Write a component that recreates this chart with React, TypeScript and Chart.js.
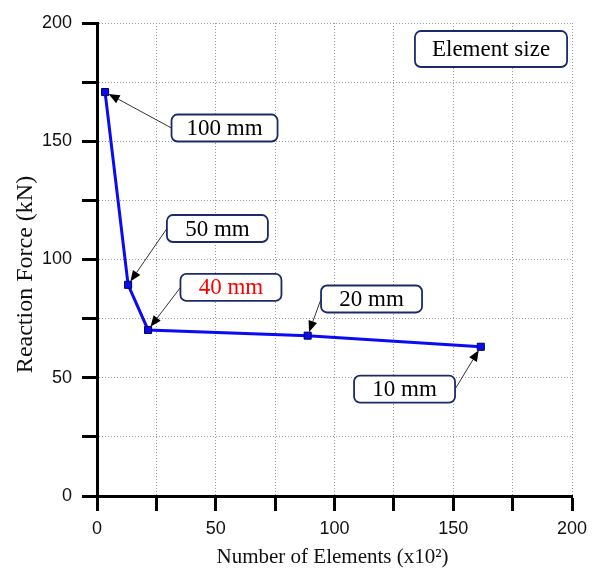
import React, { useEffect, useRef } from 'react';
import { Chart, registerables } from 'chart.js';

Chart.register(...registerables);

// ---- data ----
const elementCounts = [3.4, 13.1, 21.5, 88.7, 161.6]; // number of elements (x10^2)
const reactionForce = [170.8, 89.3, 70.2, 67.8, 63.1]; // kN
const sizeLabels = ['100 mm', '50 mm', '40 mm', '20 mm', '10 mm'];
const labelColors = ['#000000', '#000000', '#ff0000', '#000000', '#000000'];
// label box centres, in data units
const labelBoxX = [53.7, 50.7, 56.4, 115.6, 129.5];
const labelBoxY = [155.6, 113.1, 88.2, 83.3, 45.2];
const labelArrowSide = ['left', 'left', 'left', 'left', 'right'];
const legendTitle = 'Element size';
const legendBoxX = [165.9];
const legendBoxY = [189.0];
const axisTicks = [0, 25, 50, 75, 100, 125, 150, 175, 200];
const labelledTicks = [0, 50, 100, 150, 200];
const xTitle = 'Number of Elements (x10\u00B2)';
const yTitle = 'Reaction Force (kN)';

const SERIF = '"Liberation Serif", "Times New Roman", serif';
const SANS = '"Liberation Sans", Arial, sans-serif';

function roundRect(ctx: CanvasRenderingContext2D, x: number, y: number, w: number, h: number, r: number) {
  ctx.beginPath();
  ctx.moveTo(x + r, y);
  ctx.arcTo(x + w, y, x + w, y + h, r);
  ctx.arcTo(x + w, y + h, x, y + h, r);
  ctx.arcTo(x, y + h, x, y, r);
  ctx.arcTo(x, y, x + w, y, r);
  ctx.closePath();
}

function drawBox(ctx: CanvasRenderingContext2D, cx: number, cy: number, w: number, h: number, text: string, color: string) {
  ctx.save();
  roundRect(ctx, cx - w / 2, cy - h / 2, w, h, 6);
  ctx.fillStyle = '#ffffff';
  ctx.fill();
  ctx.lineWidth = 1.8;
  ctx.strokeStyle = '#1c2a6b';
  ctx.stroke();
  ctx.fillStyle = color;
  ctx.textAlign = 'center';
  ctx.textBaseline = 'middle';
  ctx.fillText(text, cx, cy + 1);
  ctx.restore();
}

function drawArrow(ctx: CanvasRenderingContext2D, x1: number, y1: number, x2: number, y2: number) {
  const dx = x2 - x1;
  const dy = y2 - y1;
  const len = Math.sqrt(dx * dx + dy * dy);
  const ux = dx / len;
  const uy = dy / len;
  const tipX = x2 - ux * 4;
  const tipY = y2 - uy * 4;
  const headL = 11;
  const headW = 4.5;
  const bx = tipX - ux * headL;
  const by = tipY - uy * headL;
  ctx.save();
  ctx.strokeStyle = '#333333';
  ctx.lineWidth = 1;
  ctx.beginPath();
  ctx.moveTo(x1, y1);
  ctx.lineTo(bx, by);
  ctx.stroke();
  ctx.fillStyle = '#000000';
  ctx.beginPath();
  ctx.moveTo(tipX, tipY);
  ctx.lineTo(bx - uy * headW, by + ux * headW);
  ctx.lineTo(bx + uy * headW, by - ux * headW);
  ctx.closePath();
  ctx.fill();
  ctx.restore();
}

const annotationPlugin = {
  id: 'annotations',
  afterDatasetsDraw(chart: any) {
    const ctx: CanvasRenderingContext2D = chart.ctx;
    const xs = chart.scales.x;
    const ys = chart.scales.y;
    ctx.save();
    ctx.font = `23px ${SERIF}`;
    for (let i = 0; i < sizeLabels.length; i++) {
      const cx = xs.getPixelForValue(labelBoxX[i]);
      const cy = ys.getPixelForValue(labelBoxY[i]);
      const tw = ctx.measureText(sizeLabels[i]).width;
      const w = Math.max(101, tw + 30);
      const h = 27;
      const px = xs.getPixelForValue(elementCounts[i]);
      const py = ys.getPixelForValue(reactionForce[i]);
      const sx = labelArrowSide[i] === 'left' ? cx - w / 2 : cx + w / 2;
      drawArrow(ctx, sx, cy, px, py);
      drawBox(ctx, cx, cy, w, h, sizeLabels[i], labelColors[i]);
    }
    const lx = xs.getPixelForValue(legendBoxX[0]);
    const ly = ys.getPixelForValue(legendBoxY[0]);
    const ltw = ctx.measureText(legendTitle).width;
    drawBox(ctx, lx, ly, ltw + 34, 36, legendTitle, '#000000');
    ctx.restore();
  },
  afterDraw(chart: any) {
    const ctx: CanvasRenderingContext2D = chart.ctx;
    const area = chart.chartArea;
    ctx.save();
    ctx.fillStyle = '#111111';
    ctx.textAlign = 'center';
    ctx.textBaseline = 'middle';
    ctx.font = `21px ${SERIF}`;
    ctx.fillText(xTitle, (area.left + area.right) / 2 - 2, 557);
    ctx.translate(26, (area.top + area.bottom) / 2 + 15);
    ctx.rotate(-Math.PI / 2);
    ctx.font = `24px ${SERIF}`;
    ctx.fillText(yTitle, 0, 0);
    ctx.restore();
  },
};

function scaleOptions(fitSize: (s: any) => void) {
  return {
    type: 'linear' as const,
    min: 0,
    max: 200,
    afterBuildTicks: (scale: any) => {
      scale.ticks = axisTicks.map((v) => ({ value: v }));
    },
    afterFit: fitSize,
    grid: {
      color: '#9a9a9a',
      lineWidth: 1,
      drawTicks: true,
      tickLength: 15,
      tickColor: '#000000',
      tickWidth: 3,
    },
    border: {
      display: true,
      color: '#000000',
      width: 3,
      dash: [1, 2],
    },
    ticks: {
      autoSkip: false,
      maxRotation: 0,
      color: '#111111',
      font: { family: SANS, size: 18 },
      callback: (v: any) => (labelledTicks.includes(Number(v)) ? String(v) : ''),
    },
  };
}

export default function App() {
  const ref = useRef<HTMLCanvasElement>(null);
  useEffect(() => {
    if (!ref.current) return;
    const xOpts: any = scaleOptions((s: any) => {
      s.height = 72;
    });
    xOpts.position = 'bottom';
    xOpts.ticks.padding = 7;
    const yOpts: any = scaleOptions((s: any) => {
      s.width = 97;
    });
    yOpts.position = 'left';
    yOpts.ticks.padding = 10;
    const chart = new Chart(ref.current, {
      type: 'scatter',
      data: {
        datasets: [
          {
            data: elementCounts.map((x, i) => ({ x, y: reactionForce[i] })),
            showLine: true,
            borderColor: '#0a0af5',
            borderWidth: 3,
            backgroundColor: '#0a0af5',
            pointStyle: 'rect',
            pointRadius: 5,
            pointBorderColor: '#000050',
            pointBorderWidth: 1,
            pointBackgroundColor: '#0a0af5',
          },
        ],
      },
      options: {
        responsive: false,
        animation: false,
        layout: { padding: { left: 0, top: 23, right: 26, bottom: 0 } },
        plugins: {
          legend: { display: false },
          tooltip: { enabled: false },
          title: { display: false },
        },
        scales: { x: xOpts, y: yOpts },
      },
      plugins: [annotationPlugin],
    });
    return () => chart.destroy();
  }, []);
  return (
    <div style={{ position: 'absolute', left: 0, top: 0, width: 598, height: 568, background: '#fff' }}>
      <canvas ref={ref} width={598} height={568} style={{ width: 598, height: 568 }} />
    </div>
  );
}
